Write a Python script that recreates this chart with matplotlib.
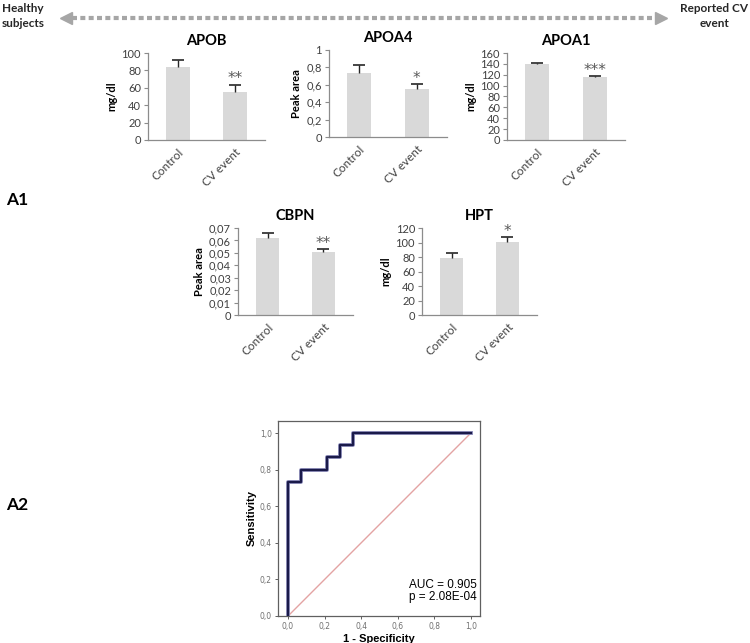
import numpy as np
import matplotlib
matplotlib.use('Agg')
import matplotlib.pyplot as plt
import matplotlib.patheffects as pe
from matplotlib.ticker import FuncFormatter

# bar panels
markers = ['APOB', 'APOA4', 'APOA1', 'CBPN', 'HPT']
groups = ['Control', 'CV event']
control_mean = [84, 0.74, 139, 0.062, 79]
control_err = [8, 0.09, 2, 0.004, 6.5]
cv_mean = [55, 0.55, 115, 0.051, 101]
cv_err = [8.5, 0.055, 2, 0.0022, 6.5]
stars = ['**', '*', '***', '**', '*']
units = ['mg/dl', 'Peak area', 'mg/dl', 'Peak area', 'mg/dl']
y_max = [100, 1, 160, 0.07, 120]
y_step = [20, 0.2, 20, 0.01, 20]

# ROC curve
roc_fpr = [0, 0, 0.071, 0.071, 0.214, 0.214, 0.286, 0.286, 0.357, 0.357, 1.0]
roc_tpr = [0, 0.733, 0.733, 0.8, 0.8, 0.867, 0.867, 0.933, 0.933, 1.0, 1.0]
auc = 0.905
p_val = '2.08E-04'

W, H = 750, 643
fig = plt.figure(figsize=(7.5, 6.43), dpi=100)
font = 'Lato'

def px_axes(x0, y0, x1, y1):
  return fig.add_axes([x0/W, 1 - y1/H, (x1 - x0)/W, (y1 - y0)/H])

def comma(v, pos):
  s = ('%.2f' % v).rstrip('0').rstrip('.')
  return s.replace('.', ',')

boxes = [(148, 53, 265, 140), (329, 50, 447, 137), (507, 53, 625, 140),
         (238, 228, 353, 315), (422, 228, 537, 315)]
spine_c = '#8c8c8c'
txt_c = '#404040'

for i, m in enumerate(markers):
  ax = px_axes(*boxes[i])
  x = np.array([0, 1])
  vals = np.array([control_mean[i], cv_mean[i]])
  errs = np.array([control_err[i], cv_err[i]])
  ax.bar(x, vals, width=0.42, color='#d9d9d9', zorder=2)
  # upper error only, "T" shaped
  ax.vlines(x, vals, vals + errs, color='#262626', lw=1, zorder=3)
  ax.plot(x, vals + errs, ls='none', marker='_', ms=8, mew=1.2, color='#262626', zorder=3)
  ax.text(1, vals[1] + errs[1] - y_max[i]*0.02, stars[i], ha='center', va='bottom',
          fontsize=11, color='#595959', family='DejaVu Sans')
  ax.set_xlim(-0.53, 1.53)
  ax.set_ylim(0, y_max[i])
  ax.set_yticks(np.arange(0, y_max[i] + y_step[i]/2, y_step[i]))
  ax.yaxis.set_major_formatter(FuncFormatter(comma))
  ax.set_xticks([0, 1])
  ax.set_xticklabels(groups, rotation=45, ha='right', rotation_mode='anchor',
                     fontsize=8.5, family=font, color=txt_c)
  ax.tick_params(axis='x', length=0, pad=5)
  ax.tick_params(axis='y', length=3, width=0.8, color=spine_c, labelsize=8,
                 labelcolor=txt_c, pad=2)
  for lab in ax.get_yticklabels():
    lab.set_family(font)
  for s in ['top', 'right']:
    ax.spines[s].set_visible(False)
  for s in ['left', 'bottom']:
    ax.spines[s].set_color(spine_c)
    ax.spines[s].set_linewidth(0.9)
  ax.set_title(m, fontsize=10.5, fontweight='bold', family=font, pad=6)
  ax.set_ylabel(units[i], fontsize=8, fontweight='bold', family=font, labelpad=3)

# ROC panel
ax = px_axes(278, 421, 480, 616)
ax.plot([0, 1], [0, 1], color='#e3a3a3', lw=1, zorder=2)
ax.plot(roc_fpr, roc_tpr, color='#1a1a4a', lw=1.6, zorder=3,
        path_effects=[pe.Stroke(linewidth=2.8, foreground='#9090bc'), pe.Normal()])
ax.set_xlim(-0.055, 1.05)
ax.set_ylim(0, 1.066)
ticks = np.arange(0, 1.01, 0.2)
ax.set_xticks(ticks)
ax.set_yticks(ticks)
fmt = FuncFormatter(lambda v, p: ('%.1f' % v).replace('.', ','))
ax.xaxis.set_major_formatter(fmt)
ax.yaxis.set_major_formatter(fmt)
ax.tick_params(length=2.5, width=0.7, color='#606060', labelsize=5.5,
               labelcolor='#707070', pad=2)
for s in ax.spines.values():
  s.set_color('#606060')
  s.set_linewidth(0.9)
ax.set_xlabel('1 - Specificity', fontsize=8, fontweight='bold', family='Liberation Sans', labelpad=2)
ax.set_ylabel('Sensitivity', fontsize=8, fontweight='bold', family='Liberation Sans', labelpad=2)
ax.text(0.66, 0.2, 'AUC = %.3f\np = %s' % (auc, p_val), fontsize=8.5,
        family='Liberation Sans', va='top', ha='left', linespacing=1.0)

# header / panel labels overlay
ov = fig.add_axes([0, 0, 1, 1])
ov.set_xlim(0, W)
ov.set_ylim(H, 0)
ov.axis('off')
ov.text(2, 16, 'Healthy\nsubjects', fontsize=8.5, fontweight='bold', family=font,
        color='#262626', ha='left', va='center', linespacing=1.35)
ov.text(748, 16, 'Reported CV\nevent', fontsize=8.5, fontweight='bold', family=font,
        color='#262626', ha='right', va='center', linespacing=1.35, multialignment='center')
arrow_c = '#a6a6a6'
ov.plot([72, 655], [18, 18], color=arrow_c, lw=3, linestyle=(0, (1.2, 0.8)))
ov.plot([66], [18], marker='<', color=arrow_c, markersize=8)
ov.plot([661], [18], marker='>', color=arrow_c, markersize=8)
ov.text(6, 200, 'A1', fontsize=12.5, fontweight='bold', family=font, va='center')
ov.text(6, 505, 'A2', fontsize=12.5, fontweight='bold', family=font, va='center')

fig.savefig('out.png', dpi=100)
